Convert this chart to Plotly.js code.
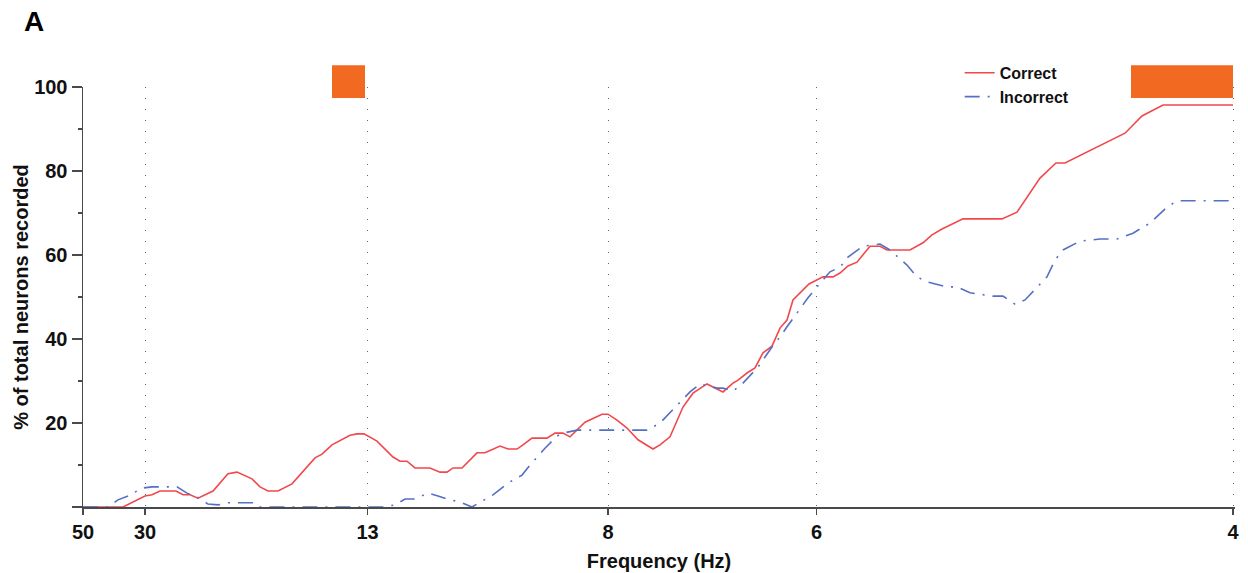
<!DOCTYPE html>
<html>
<head>
<meta charset="utf-8">
<script src="https://cdn.plot.ly/plotly-3.0.1.min.js"></script>
<style>html,body{margin:0;padding:0;background:#fff;}#chart{width:1248px;height:573px;}</style>
</head>
<body>
<div id="chart"></div>
<script>
// x positions are oscillation periods in ms (axis labelled in Hz)
const tickLabelsHz = ['50', '30', '13', '8', '6', '4'];
const tickPosMs = [20, 32.4, 76.9, 125, 166.7, 250];

const correctMs = [20, 28, 32.4, 33.8, 35.4, 38.6, 40, 41.4, 43, 46, 49, 50.8, 53.8, 55.4, 57, 59, 61.8, 63.8, 66.4, 67.8, 69.8, 73.4, 74.8, 76.2, 78.8, 82, 83.4, 84.8, 86.4, 89.4, 91.4, 92.8, 94, 95.8, 98.8, 100.4, 103.4, 105, 106.8, 108, 109.8, 112.8, 114.4, 116, 117.4, 120.4, 123.8, 125, 126.8, 128.8, 131, 134, 135.4, 137.4, 140, 142, 144.8, 148, 150, 151, 152.8, 154.4, 156, 157.8, 159.4, 160.8, 162, 165.2, 168, 170, 171.4, 173, 174.8, 177.4, 179.4, 180.8, 185.4, 188, 189.8, 191.8, 196, 203.8, 206.8, 211.4, 214.6, 216.4, 228.4, 231.8, 236, 250];
const correctPct = [0, 0, 2.6, 2.9, 3.8, 3.8, 2.9, 2.9, 2.1, 3.8, 7.9, 8.3, 6.7, 4.8, 3.8, 3.8, 5.5, 8.3, 11.7, 12.6, 14.8, 17.1, 17.4, 17.4, 15.7, 11.9, 10.9, 10.9, 9.3, 9.3, 8.3, 8.3, 9.3, 9.3, 12.9, 12.9, 14.5, 13.8, 13.8, 14.8, 16.4, 16.4, 17.6, 17.6, 16.7, 20.2, 22.1, 22.1, 20.7, 18.8, 16, 13.8, 14.8, 16.7, 23.8, 27.1, 29.3, 27.4, 29.5, 30.2, 31.9, 33.1, 36.7, 38.3, 42.6, 44.5, 49.3, 53.1, 54.8, 54.8, 55.7, 57.4, 58.3, 62.1, 62.1, 61.2, 61.2, 62.9, 64.8, 66.2, 68.6, 68.6, 70.2, 78.3, 81.9, 81.9, 89.0, 93.1, 95.7, 95.7];

const incorrectMs = [20, 25, 27, 29, 31.8, 33.8, 35.8, 38.8, 40.8, 42.8, 45, 47, 49, 54, 55, 80, 82.4, 84.4, 86.4, 89, 91, 92.8, 95.4, 97.8, 102, 105, 107.8, 109.4, 112.4, 114.8, 116, 118.8, 125.4, 132.8, 135.4, 138, 139.8, 141.4, 143.4, 146.8, 148, 150, 152, 155, 157.8, 159.4, 160.8, 163.4, 165, 166.8, 169.4, 171.4, 173, 176, 179.4, 181.4, 184.8, 186.8, 188.8, 192.8, 194.8, 197.4, 202, 204, 206.4, 208.4, 210.4, 212.8, 214.4, 216, 219.4, 223.4, 226.8, 230, 233.4, 236.8, 238.8, 243.4, 250];
const incorrectPct = [0, 0, 1.7, 2.6, 4.5, 4.8, 4.8, 4.8, 3.3, 2.4, 0.7, 0.5, 1.0, 1.0, 0, 0, 0.5, 1.9, 1.9, 3.3, 2.6, 1.9, 1.2, 0, 2.9, 5.7, 7.6, 10, 14, 16.9, 17.6, 18.3, 18.3, 18.3, 20, 23.3, 25.5, 27.4, 29.3, 28.3, 28.3, 27.6, 29.5, 33.3, 38.1, 40.5, 42.9, 47.1, 49.8, 52.4, 56, 57.1, 59.5, 62.1, 62.6, 61.2, 57.6, 54.8, 53.6, 52.4, 52.4, 51, 50.2, 50.2, 48.3, 49.3, 51.7, 54.8, 58.8, 61.2, 63.3, 63.8, 63.8, 65.2, 67.6, 71.4, 72.9, 72.9, 72.9];

// significance bars (period range, ms)
const sigStartMs = [69.8, 229.6];
const sigEndMs = [76.4, 250];

const yTickVals = [0, 20, 40, 60, 80, 100];
const yTickText = ['', '20', '40', '60', '80', '100'];

const FONT = 'Liberation Sans, Arial, sans-serif';
const axisColor = '#4a4a4a';

const traces = [
  {
    x: correctMs, y: correctPct, type: 'scatter', mode: 'lines', name: 'Correct',
    line: {color: '#f2474c', width: 1.6}
  },
  {
    x: incorrectMs, y: incorrectPct, type: 'scatter', mode: 'lines', name: 'Incorrect',
    line: {color: '#5470c4', width: 1.6, dash: '15px,8px,2px,8px'}
  }
];

const shapes = sigStartMs.map((s, i) => ({
  type: 'rect', xref: 'x', yref: 'paper',
  x0: s, x1: sigEndMs[i], y0: 0.974, y1: 1.052,
  fillcolor: '#f26a22', line: {width: 0}, layer: 'above'
}));

const layout = {
  width: 1248, height: 573,
  margin: {l: 83, r: 13, t: 87, b: 66},
  paper_bgcolor: '#ffffff', plot_bgcolor: '#ffffff',
  showlegend: true,
  legend: {
    x: 0.761, xanchor: 'left', y: 1.074, yanchor: 'top',
    bgcolor: 'rgba(0,0,0,0)', borderwidth: 0,
    font: {family: FONT, size: 16, color: '#111', weight: 'bold'},
    tracegroupgap: 0
  },
  xaxis: {
    range: [20, 250.4], autorange: false,
    tickmode: 'array', tickvals: tickPosMs, ticktext: tickLabelsHz,
    ticks: 'outside', ticklen: 6, tickwidth: 1.5, tickcolor: axisColor,
    showline: true, linecolor: axisColor, linewidth: 1.5,
    showgrid: true, gridcolor: '#666', gridwidth: 1, griddash: '1px,10px',
    zeroline: false,
    tickfont: {family: FONT, size: 20, color: '#111', weight: 'bold'},
    title: {text: 'Frequency (Hz)', font: {family: FONT, size: 20, color: '#111', weight: 'bold'}, standoff: 12},
    automargin: false
  },
  yaxis: {
    range: [0, 100], autorange: false,
    tickmode: 'array', tickvals: yTickVals, ticktext: yTickText,
    ticks: 'outside', ticklen: 10, tickwidth: 1.5, tickcolor: axisColor,
    minor: {tickmode: 'linear', dtick: 10, tick0: 0, ticks: 'outside', ticklen: 4, tickwidth: 1.5, tickcolor: axisColor, showgrid: false},
    showline: true, linecolor: axisColor, linewidth: 1.5,
    showgrid: false, zeroline: false,
    tickfont: {family: FONT, size: 20, color: '#111', weight: 'bold'},
    title: {text: '% of total neurons recorded', font: {family: FONT, size: 20, color: '#111', weight: 'bold'}, standoff: 0},
    automargin: false
  },
  shapes: shapes,
  annotations: [{
    text: 'A', xref: 'paper', yref: 'paper', x: -0.053, y: 1.157,
    xanchor: 'left', yanchor: 'middle', showarrow: false,
    font: {family: FONT, size: 28, color: '#000', weight: 'bold'}
  }]
};

Plotly.newPlot('chart', traces, layout, {displayModeBar: false, staticPlot: true});
</script>
</body>
</html>
